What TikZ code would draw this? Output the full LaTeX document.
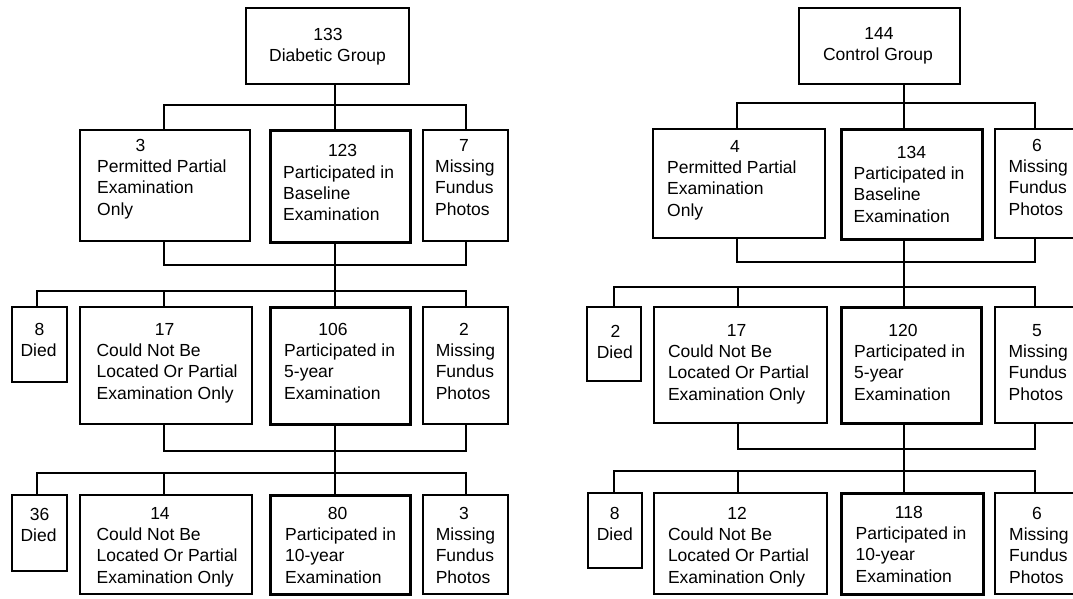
\documentclass[tikz,border=0pt]{standalone}
\usepackage{fontspec}
\setmainfont{Liberation Sans}
\usetikzlibrary{fit}
\newcommand\bx[6]{\node[#1, fit={(#3,#4) (#5,#6)}] (#2) {};}
\newcommand\num[4]{\node[lbl, anchor=base] (#1) at (#2,#3) {#4};}
\newcommand\lns[5]{\foreach \linetext [count=\li] in {#5} {\node[lbl, anchor=#4] (#1-\li) at ({#2},{#3+(\li-1)*21.4}) {\linetext};}}
\begin{document}
\begin{tikzpicture}[x=1pt,y=-1pt,
  box/.style={draw, line width=1.4pt, inner sep=0pt, outer sep=0pt},
  boldbox/.style={box, line width=3pt},
  lbl/.style={inner sep=0pt, font=\fontsize{17.5}{21}\selectfont},
  conn/.style={line width=1.4pt}]
\path[use as bounding box] (0,0) rectangle (1073,598);
\clip (0,0) rectangle (1073,598);

% ================= LEFT: Diabetic group =================
\bx{box}{Ltop}{246}{8}{409}{84}
\num{Ltop-n}{328}{40}{133}
\lns{Ltop-t}{327.5}{61.4}{base}{Diabetic Group}

\bx{box}{LA}{80}{130}{250}{241}
\num{LA-n}{140.5}{151}{3}
\lns{LA-t}{97}{172.4}{base west}{Permitted Partial,Examination,Only}
\bx{boldbox}{LB}{270}{130}{410}{242}
\num{LB-n}{342.6}{156.7}{123}
\lns{LB-t}{283}{178.1}{base west}{Participated in,Baseline,Examination}
\bx{box}{LC}{423}{130}{508}{241}
\num{LC-n}{464}{151}{7}
\lns{LC-t}{435}{172.4}{base west}{Missing,Fundus,Photos}

\bx{box}{LD2}{12}{307}{67}{382}
\num{LD2-n}{39.6}{335}{8}
\lns{LD2-t}{38.6}{356.4}{base}{Died}
\bx{box}{LE2}{80}{307}{252}{424}
\num{LE2-n}{164.6}{335}{17}
\lns{LE2-t}{96.4}{356.4}{base west}{Could Not Be,Located Or Partial,Examination Only}
\bx{boldbox}{LF2}{270}{307}{410}{424}
\num{LF2-n}{333}{335}{106}
\lns{LF2-t}{284}{356.4}{base west}{Participated in,5-year,Examination}
\bx{box}{LG2}{423}{307}{508}{424}
\num{LG2-n}{464}{335}{2}
\lns{LG2-t}{435.6}{356.4}{base west}{Missing,Fundus,Photos}

\bx{box}{LD3}{12}{495}{67}{571}
\num{LD3-n}{39.6}{520}{36}
\lns{LD3-t}{38.6}{541.4}{base}{Died}
\bx{box}{LE3}{80}{495}{252}{594}
\num{LE3-n}{160}{519}{14}
\lns{LE3-t}{96.4}{540.4}{base west}{Could Not Be,Located Or Partial,Examination Only}
\bx{boldbox}{LF3}{270}{495}{410}{594}
\num{LF3-n}{337.5}{519}{80}
\lns{LF3-t}{285}{540.4}{base west}{Participated in,10-year,Examination}
\bx{box}{LG3}{423}{495}{508}{594}
\num{LG3-n}{464}{519}{3}
\lns{LG3-t}{435.6}{540.4}{base west}{Missing,Fundus,Photos}

% connectors left
\coordinate (LJ0) at (335,105);
\coordinate (LaJ) at (164,105);
\coordinate (LcJ) at (466,105);
\draw[conn] (Ltop.south -| LJ0) -- (LJ0);
\draw[conn] (LA.north -| LaJ) -- (LaJ) -- (LcJ) -- (LC.north -| LcJ);
\draw[conn] (LJ0) -- (LB.north -| LJ0);

\coordinate (LK) at (335,265);
\coordinate (LaK) at (164,265);
\coordinate (LcK) at (466,265);
\draw[conn] (LA.south -| LaK) -- (LaK) -- (LcK) -- (LC.south -| LcK);
\draw[conn] (LB.south -| LK) -- (LK);
\coordinate (LM) at (335,291);
\coordinate (LdM) at (37,291);
\coordinate (LeM) at (164,291);
\coordinate (LgM) at (466,291);
\draw[conn] (LK) -- (LM);
\draw[conn] (LD2.north -| LdM) -- (LdM) -- (LgM) -- (LG2.north -| LgM);
\draw[conn] (LeM) -- (LE2.north -| LeM);
\draw[conn] (LM) -- (LF2.north -| LM);

\coordinate (LP) at (335,451);
\coordinate (LeP) at (164,451);
\coordinate (LgP) at (466,451);
\draw[conn] (LE2.south -| LeP) -- (LeP) -- (LgP) -- (LG2.south -| LgP);
\draw[conn] (LF2.south -| LP) -- (LP);
\coordinate (LQ) at (335,473);
\coordinate (LdQ) at (37,473);
\coordinate (LeQ) at (164,473);
\coordinate (LgQ) at (466,473);
\draw[conn] (LP) -- (LQ);
\draw[conn] (LD3.north -| LdQ) -- (LdQ) -- (LgQ) -- (LG3.north -| LgQ);
\draw[conn] (LeQ) -- (LE3.north -| LeQ);
\draw[conn] (LQ) -- (LF3.north -| LQ);

% ================= RIGHT: Control group =================
\bx{box}{Rtop}{799}{8}{960}{84}
\num{Rtop-n}{879}{39}{144}
\lns{Rtop-t}{878}{60.4}{base}{Control Group}

\bx{box}{RA}{653}{129}{825}{238}
\num{RA-n}{735}{152}{4}
\lns{RA-t}{667}{173.4}{base west}{Permitted Partial,Examination,Only}
\bx{boldbox}{RB}{841}{129}{982}{239}
\num{RB-n}{911.5}{158}{134}
\lns{RB-t}{853.4}{179.4}{base west}{Participated in,Baseline,Examination}
\bx{box}{RC}{995}{129}{1082}{238}
\num{RC-n}{1037}{151}{6}
\lns{RC-t}{1008.4}{172.4}{base west}{Missing,Fundus,Photos}

\bx{box}{RD2}{587}{307}{641}{381}
\num{RD2-n}{615.5}{337}{2}
\lns{RD2-t}{614.8}{358.4}{base}{Died}
\bx{box}{RE2}{654}{307}{827}{423}
\num{RE2-n}{736.5}{336}{17}
\lns{RE2-t}{667.8}{357.4}{base west}{Could Not Be,Located Or Partial,Examination Only}
\bx{boldbox}{RF2}{841}{307}{981}{423}
\num{RF2-n}{903}{336}{120}
\lns{RF2-t}{854}{357.4}{base west}{Participated in,5-year,Examination}
\bx{box}{RG2}{995}{307}{1082}{423}
\num{RG2-n}{1037}{336}{5}
\lns{RG2-t}{1008.4}{357.4}{base west}{Missing,Fundus,Photos}

\bx{box}{RD3}{588}{493}{642}{568}
\num{RD3-n}{614.8}{519}{8}
\lns{RD3-t}{614.8}{540.4}{base}{Died}
\bx{box}{RE3}{654}{493}{827}{594}
\num{RE3-n}{737}{519}{12}
\lns{RE3-t}{667.8}{540.4}{base west}{Could Not Be,Located Or Partial,Examination Only}
\bx{boldbox}{RF3}{841}{493}{983}{594}
\num{RF3-n}{908.8}{518}{118}
\lns{RF3-t}{855.4}{539.4}{base west}{Participated in,10-year,Examination}
\bx{box}{RG3}{995}{493}{1082}{594}
\num{RG3-n}{1037}{519}{6}
\lns{RG3-t}{1009}{540.4}{base west}{Missing,Fundus,Photos}

% connectors right
\coordinate (RJ0) at (904,103);
\coordinate (RaJ) at (737,103);
\coordinate (RcJ) at (1035,103);
\draw[conn] (Rtop.south -| RJ0) -- (RJ0);
\draw[conn] (RA.north -| RaJ) -- (RaJ) -- (RcJ) -- (RC.north -| RcJ);
\draw[conn] (RJ0) -- (RB.north -| RJ0);

\coordinate (RK) at (904,262);
\coordinate (RaK) at (737,262);
\coordinate (RcK) at (1035,262);
\draw[conn] (RA.south -| RaK) -- (RaK) -- (RcK) -- (RC.south -| RcK);
\draw[conn] (RB.south -| RK) -- (RK);
\coordinate (RM) at (904,287);
\coordinate (RdM) at (614,287);
\coordinate (ReM) at (738,287);
\coordinate (RgM) at (1035,287);
\draw[conn] (RK) -- (RM);
\draw[conn] (RD2.north -| RdM) -- (RdM) -- (RgM) -- (RG2.north -| RgM);
\draw[conn] (ReM) -- (RE2.north -| ReM);
\draw[conn] (RM) -- (RF2.north -| RM);

\coordinate (RP) at (904,449);
\coordinate (ReP) at (738,449);
\coordinate (RgP) at (1035,449);
\draw[conn] (RE2.south -| ReP) -- (ReP) -- (RgP) -- (RG2.south -| RgP);
\draw[conn] (RF2.south -| RP) -- (RP);
\coordinate (RQ) at (904,471);
\coordinate (RdQ) at (614,471);
\coordinate (ReQ) at (738,471);
\coordinate (RgQ) at (1035,471);
\draw[conn] (RP) -- (RQ);
\draw[conn] (RD3.north -| RdQ) -- (RdQ) -- (RgQ) -- (RG3.north -| RgQ);
\draw[conn] (ReQ) -- (RE3.north -| ReQ);
\draw[conn] (RQ) -- (RF3.north -| RQ);
\end{tikzpicture}
\end{document}
